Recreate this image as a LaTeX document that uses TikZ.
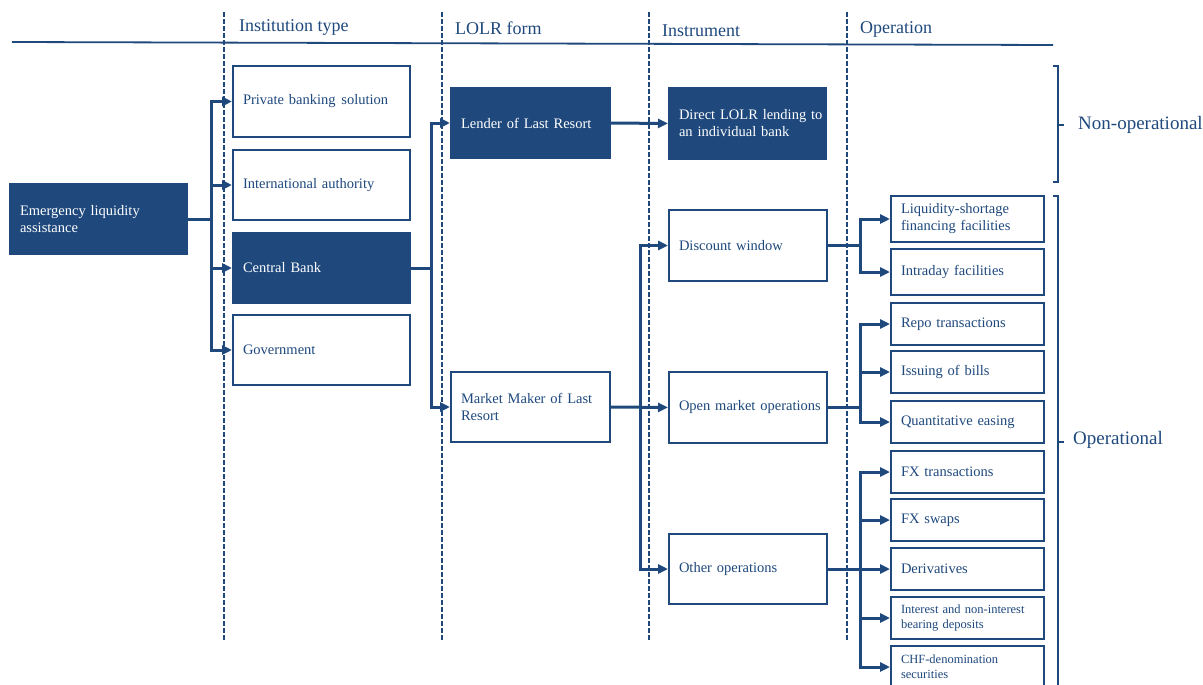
\documentclass[tikz,border=0pt]{standalone}
\usepackage{fontspec}
\setmainfont{Liberation Serif}
\usetikzlibrary{arrows.meta}
\definecolor{navy}{HTML}{1F497D}
\begin{document}
\begin{tikzpicture}[x=1pt,y=-1pt,
  box/.style={draw=navy, line width=2pt, fill=white, text=navy, anchor=north west,
    align=left, inner xsep=10pt, inner ysep=0pt, font=\fontsize{14.5}{17}\selectfont,
    execute at begin node={\hyphenpenalty=10000\exhyphenpenalty=10000\hbadness=10000\hfuzz=20pt}},
  dark/.style={box, fill=navy, text=white},
  small/.style={font=\fontsize{12.5}{15}\selectfont},
  conn/.style={draw=navy, line width=3pt},
  arr/.style={conn, -{Triangle[length=10pt,width=9pt]}},
  guide/.style={draw=navy, line width=1.3pt, dash pattern=on 5pt off 2pt},
  head/.style={text=navy, anchor=base west, inner sep=0pt, font=\fontsize{18}{20}\selectfont},
  bracket/.style={draw=navy, line width=1.8pt},
  side/.style={text=navy, anchor=west, inner sep=0pt, font=\fontsize{19}{22}\selectfont}
]
\useasboundingbox (0,0) rectangle (1203,685);

% column guides and header rule
\draw[navy, line width=1.8pt] (12,42) -- (1053,45);
\foreach \gx in {224,442,649,847}
  \draw[guide] (\gx,12) -- (\gx,640);
\node[head] (h1) at (239,32) {Institution type};
\node[head] (h2) at (455,35) {LOLR form};
\node[head] (h3) at (662,37) {Instrument};
\node[head] (h4) at (860,34) {Operation};

% root
\node[dark, text width=157pt, minimum height=70pt] (ela) at (9,183) {Emergency liquidity\\assistance};

% institution type
\node[box,  text width=157pt, minimum height=71pt] (pb)  at (232,65)  {Private banking\hspace{1pt} solution};
\node[box,  text width=157pt, minimum height=70pt] (ia)  at (232,149) {International authority};
\node[dark, text width=157pt, minimum height=70pt] (cb)  at (232,232) {Central Bank};
\node[box,  text width=157pt, minimum height=70pt] (gov) at (232,314) {Government};

% LOLR form
\node[dark, text width=139pt, minimum height=70pt] (lolr) at (450,87)  {Lender of Last Resort};
\node[box,  text width=139pt, minimum height=70pt] (mmlr) at (450,371) {Market Maker of Last\\Resort};

% instrument
\node[dark, text width=137pt, minimum height=71pt] (dir) at (668,87)  {Direct~LOLR~lending~to\\an individual bank};
\node[box,  text width=138pt, minimum height=71pt] (dw)  at (668,209) {Discount window};
\node[box,  text width=138pt, minimum height=71pt] (omo) at (668,371) {Open~market~operations};
\node[box,  text width=138pt, minimum height=70pt] (oth) at (668,533) {Other operations};

% operation
\node[box, text width=133pt, minimum height=46pt] (liq)   at (890,195) {Liquidity-shortage\\financing facilities};
\node[box, text width=133pt, minimum height=46pt] (intra) at (890,248) {Intraday\ facilities};
\node[box, text width=133pt, minimum height=42pt] (repo)  at (890,302) {Repo transactions};
\node[box, text width=133pt, minimum height=42pt] (bills) at (890,350) {Issuing of bills};
\node[box, text width=133pt, minimum height=42pt] (qe)    at (890,400) {Quantitative easing};
\node[box, text width=133pt, minimum height=42pt] (fxt)   at (890,450) {FX transactions};
\node[box, text width=133pt, minimum height=42pt] (fxs)   at (890,498) {FX swaps};
\node[box, text width=133pt, minimum height=42pt] (der)   at (890,547) {Derivatives};
\node[box, small, text width=133pt, minimum height=42pt] (dep) at (890,596) {Interest and non-interest\\bearing deposits};
\node[box, small, text width=133pt, minimum height=42pt] (chf) at (890,645) {CHF-denomination\\securities};

% branch points
\coordinate (j1) at ([xshift=23pt]ela.east);
\coordinate (j2) at ([xshift=20pt]cb.east);
\coordinate (j3) at ([xshift=29pt]mmlr.east);
\coordinate (j4) at ([xshift=32pt]dw.east);
\coordinate (j5) at ([xshift=32pt]omo.east);
\coordinate (j6) at ([xshift=32pt]oth.east);

% connectors
\draw[conn] (ela.east) -- (j1);
\foreach \t in {pb,ia,cb,gov} \draw[arr] (j1) |- (\t.west);

\draw[conn] (cb.east) -- (j2);
\foreach \t in {lolr,mmlr} \draw[arr] (j2) |- (\t.west);

\draw[arr] (lolr.east) -- (dir.west);
\draw[arr] (mmlr.east) -- (omo.west);
\foreach \t in {dw,oth} \draw[arr] (j3) |- (\t.west);

\draw[conn] (dw.east) -- (j4);
\foreach \t in {liq,intra} \draw[arr] (j4) |- (\t.west);

\draw[conn] (omo.east) -- (j5);
\foreach \t in {repo,bills,qe} \draw[arr] (j5) |- (\t.west);

\draw[conn] (oth.east) -- (j6);
\foreach \t in {fxt,fxs,der,dep,chf} \draw[arr] (j6) |- (\t.west);

% grouping brackets
\draw[bracket] (1053,66) -- (1058,66) -- (1058,182) -- (1053,182);
\draw[bracket] (1058,125) -- (1064,125);
\node[side] (nonop) at (1078,125) {Non-operational};
\draw[bracket] (1053,196) -- (1058,196) -- (1058,700);
\draw[bracket] (1058,442) -- (1064,442);
\node[side] (op) at (1073,440) {Operational};
\end{tikzpicture}
\end{document}
